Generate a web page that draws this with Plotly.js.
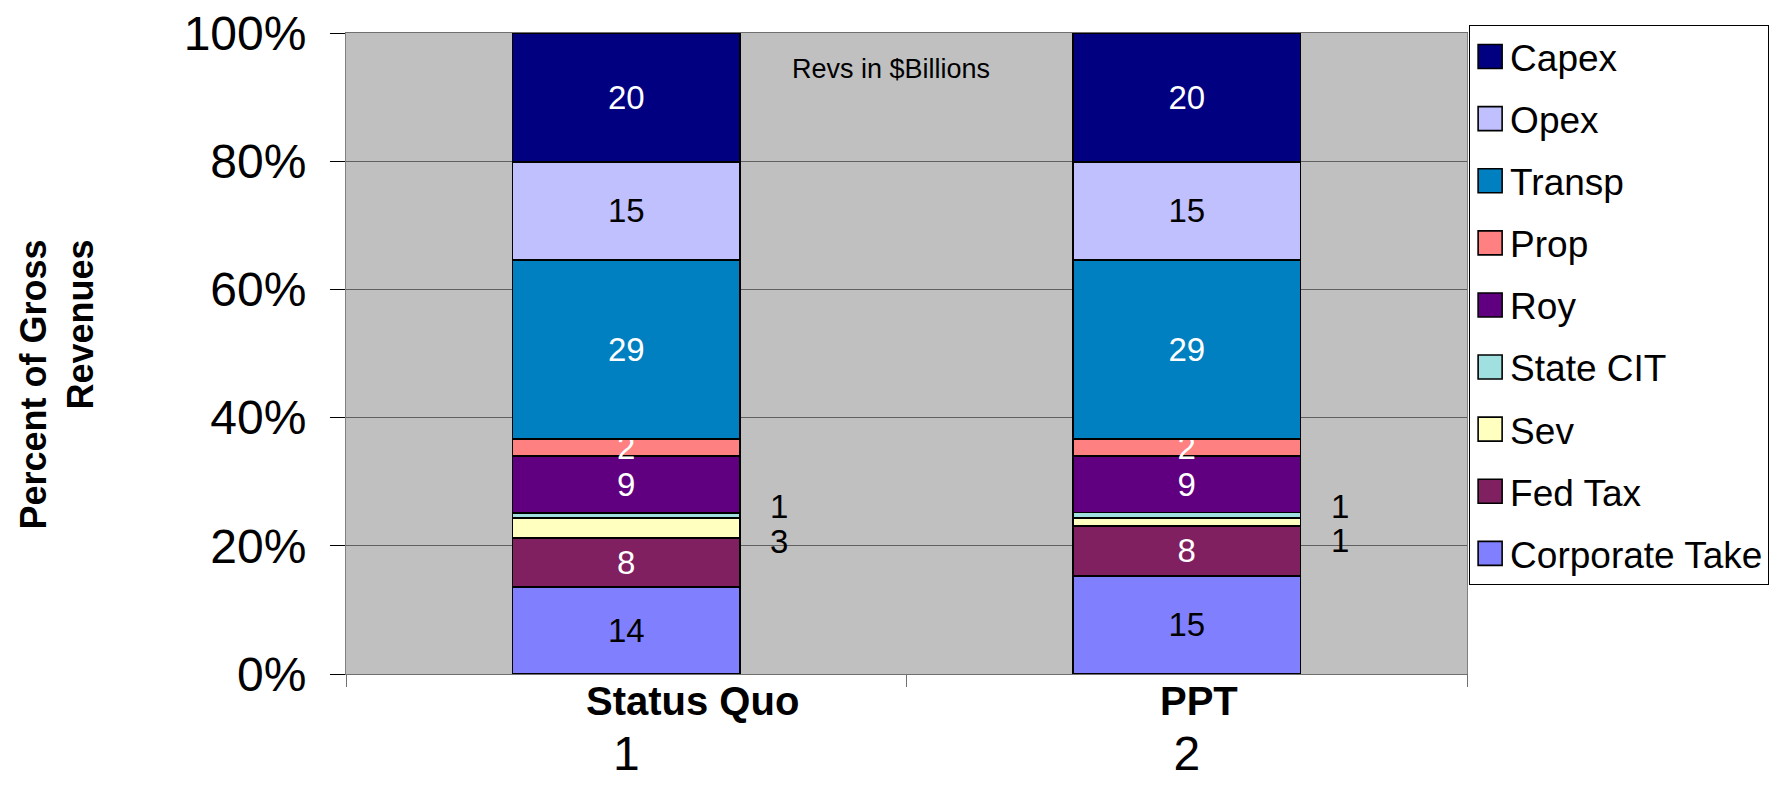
<!DOCTYPE html>
<html><head><meta charset="utf-8">
<script src="https://cdn.plot.ly/plotly-3.0.1.min.js"></script>
<style>html,body{margin:0;padding:0;background:#fff}#chart{width:1780px;height:800px}</style>
</head><body><div id="chart"></div>
<script>
// categories
const categories = ['Status Quo', 'PPT'];
const categoryNumbers = ['1', '2'];
const seriesNames = ['Corporate Take', 'Fed Tax', 'Sev', 'State CIT', 'Roy', 'Prop', 'Transp', 'Opex', 'Capex'];
// share of gross revenues (%)
const corporateTake = [13.6, 15.3];
const fedTax = [7.6, 7.8];
const sev = [3.1, 1.2];
const stateCIT = [0.8, 0.9];
const roy = [8.9, 8.8];
const prop = [2.66, 2.66];
const transp = [27.9, 27.9];
const opex = [15.3, 15.3];
const capex = [20.1, 20.1];
// data labels: revenues in $Billions
const corporateTakeBn = [14, 15];
const fedTaxBn = [8, 8];
const sevBn = [3, 1];
const stateCITBn = [1, 1];
const royBn = [9, 9];
const propBn = [2, 2];
const transpBn = [29, 29];
const opexBn = [15, 15];
const capexBn = [20, 20];
// y ticks
const yTicks = [0, 20, 40, 60, 80, 100];
const yTickLabels = ['0%', '20%', '40%', '60%', '80%', '100%'];

const seriesValues = [corporateTake, fedTax, sev, stateCIT, roy, prop, transp, opex, capex];
const seriesLabels = [corporateTakeBn, fedTaxBn, sevBn, stateCITBn, royBn, propBn, transpBn, opexBn, capexBn];
const colors = ['#8080FF', '#802060', '#FFFFC0', '#A0E0E0', '#600080', '#FF8080', '#0080C0', '#C0C0FF', '#000080'];
const textColors = ['#000', '#fff', '#000', '#000', '#fff', '#fff', '#fff', '#000', '#fff'];
const outsideLabel = [false, false, true, true, false, false, false, false, false];
const FONT = 'Liberation Sans, Arial, sans-serif';

const traces = seriesNames.map((name, i) => ({
  type: 'bar',
  name: name,
  legendgroup: 'g' + i,
  legendrank: seriesNames.length - i,
  x: categories,
  y: seriesValues[i],
  text: seriesLabels[i].map(String),
  textposition: outsideLabel[i] ? 'none' : 'inside',
  insidetextanchor: 'middle',
  textangle: 0,
  textfont: {family: FONT, size: 33, color: textColors[i]},
  marker: {color: colors[i], line: {color: '#000', width: 1.6}},
  hoverinfo: 'skip'
}));

// side labels for the thin Sev / State CIT segments
const totals = categories.map((c, j) => seriesValues.reduce((s, v) => s + v[j], 0));
function midPct(k, j) {
  let base = 0;
  for (let i = 0; i < k; i++) base += seriesValues[i][j];
  return (base + seriesValues[k][j] / 2) / totals[j] * 100;
}
const annotations = [];
categories.forEach((c, j) => {
  annotations.push({x: c, y: midPct(3, j), xref: 'x', yref: 'y', text: String(stateCITBn[j]),
    showarrow: false, xshift: 153, yshift: 9, font: {family: FONT, size: 33, color: '#000'}});
  annotations.push({x: c, y: midPct(2, j), xref: 'x', yref: 'y', text: String(sevBn[j]),
    showarrow: false, xshift: 153, yshift: j === 0 ? -13 : -18, font: {family: FONT, size: 33, color: '#000'}});
});
// category names (bold), placed as in the reference
const nameShift = [66, 12];
categories.forEach((c, j) => {
  annotations.push({x: c, y: -0.0425, xref: 'x', yref: 'paper', text: '<b>' + c + '</b>',
    showarrow: false, xshift: nameShift[j], xanchor: 'center', yanchor: 'middle', borderpad: 0,
    font: {family: FONT, size: 40, color: '#000'}});
});
annotations.push({x: 0.4866, y: 0.9438, xref: 'paper', yref: 'paper', text: 'Revs in $Billions',
  showarrow: false, xanchor: 'center', yanchor: 'middle', font: {family: FONT, size: 27, color: '#000'}});
// y-axis title
annotations.push({x: -0.2576, y: 0.452, xref: 'paper', yref: 'paper', text: '<b>Percent of Gross<br>Revenues</b>',
  showarrow: false, textangle: -90, align: 'right', xanchor: 'center', yanchor: 'middle',
  font: {family: FONT, size: 36, color: '#000'}});

const layout = {
  width: 1780, height: 800,
  margin: {l: 346, r: 312, t: 33, b: 126},
  paper_bgcolor: '#fff',
  plot_bgcolor: '#C0C0C0',
  barmode: 'stack',
  barnorm: 'percent',
  bargap: 0.594,
  uniformtext: {mode: 'show', minsize: 33},
  font: {family: FONT, color: '#000'},
  xaxis: {
    type: 'category',
    tickvals: categories, ticktext: categoryNumbers,
    tickson: 'boundaries', ticks: 'outside', ticklen: 12, tickcolor: '#707070', tickwidth: 1,
    showline: true, linecolor: '#707070', linewidth: 1, mirror: true,
    showgrid: false, tickfont: {family: FONT, size: 48, color: '#000'},
    ticklabelstandoff: 37,
    automargin: false, fixedrange: true
  },
  yaxis: {
    range: [0, 100], tickvals: yTicks, ticktext: yTickLabels,
    ticks: 'outside', ticklen: 15, tickcolor: '#000', tickwidth: 1,
    showline: true, linecolor: '#808080', linewidth: 1, mirror: true,
    showgrid: true, gridcolor: '#606060', gridwidth: 1, zeroline: false,
    tickfont: {family: FONT, size: 48, color: '#000'},
    ticklabelstandoff: 14,
    automargin: false, fixedrange: true
  },
  legend: {
    x: 1.001, xanchor: 'left', y: 1.0125, yanchor: 'top',
    traceorder: 'grouped', tracegroupgap: 11, maxheight: 760,
    font: {family: FONT, size: 37, color: '#000'},
    bgcolor: '#fff', bordercolor: '#000', borderwidth: 1
  },
  annotations: annotations,
  showlegend: true
};

Plotly.newPlot('chart', traces, layout, {staticPlot: true, displayModeBar: false}).then(gd => {
  gd.querySelectorAll('.legend .legendpoints path').forEach(p => p.setAttribute('d', 'M12,12H-12V-12H12Z'));
});
</script>
</body></html>
